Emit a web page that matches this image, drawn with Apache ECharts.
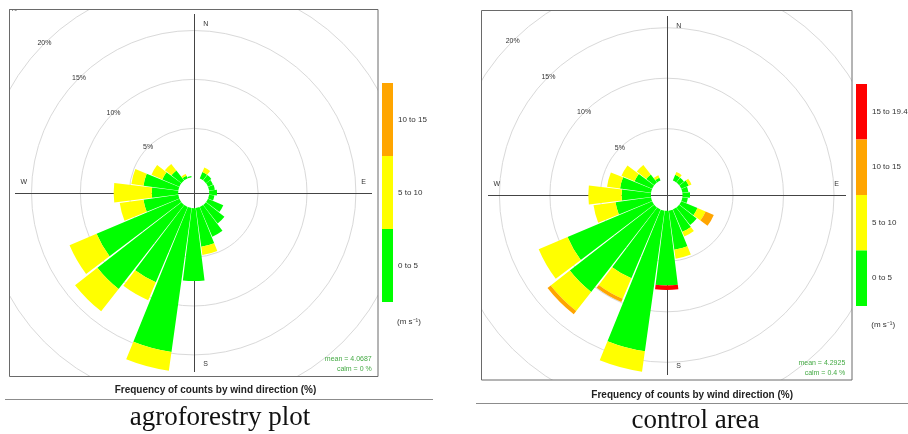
<!DOCTYPE html>
<html><head><meta charset="utf-8">
<script src="https://cdn.jsdelivr.net/npm/echarts@6/dist/echarts.min.js"></script>
<style>html,body{margin:0;padding:0;background:#fff}#c{width:908px;height:434px}</style>
</head><body><div id="c"></div>
<script>
// ---- data ----
const directions = ['0','15','30','45','60','75','90','105','120','135','150','165','180','195','210','225','240','255','270','285','300','315','330','345'];
const speedBins = ['0 to 5','5 to 10','10 to 15','15 to 19.4'];
const binColors = ['#00ff00','#ffff00','#ffa500','#ff0000'];
const ringTicks = [0,5,10,15,20,25];
const compassLabels = ['N','E','S','W'];

// agroforestry plot (% of counts per direction, per speed bin)
const agro0to5   = [0,0,0.7,0.7,0.55,0.6,0.8,0.55,1.7,2.4,3.3,4.0,7.45,14.85,8.35,10.9,9.2,3.6,2.7,3.6,1.9,1.3,0.3,0.15];
const agro5to10  = [0,0,0.5,0,0,0,0,0,0,0,0,0.85,0,1.95,2.0,2.9,3.0,2.45,3.9,1.25,1.2,0.85,0.2,0];
const agro10to15 = [0,0,0,0,0,0,0,0,0,0,0,0,0,0,0,0,0,0,0,0,0,0,0,0];

// control area
const ctrl0to5    = [0,0,0.6,0.6,0.8,0.6,0.75,0.55,1.75,2.2,2.4,3.9,7.4,14.05,7.4,10.6,9.1,3.55,2.9,3.1,1.9,1.0,0.3,0];
const ctrl5to10   = [0,0,0.3,0,0.3,0,0,0,0.87,0,0.5,0.9,0,2.05,2.2,2.4,3.1,2.2,3.3,1.3,1.4,1.2,0.25,0];
const ctrl10to15  = [0,0,0,0,0,0,0,0,0.88,0,0,0,0,0,0.35,0.4,0,0,0,0,0,0,0,0];
const ctrl15to19  = [0,0,0,0,0,0,0,0,0,0,0,0,0.45,0,0,0,0,0,0,0,0,0,0,0];

const agroStats = ['mean = 4.0687', 'calm = 0 %'];
const ctrlStats = ['mean = 4.2925', 'calm = 0.4 %'];
const panelTitle = 'Frequency of counts by wind direction (%)';
const captions = ['agroforestry plot', 'control area'];

// ---- layout ----
const L = {cx:193.7, cy:192.7, r0:15.5, r1:260, frame:[9.5,9.5,368.5,367], lines:[15,372,14,372], title:[215.5,390.7], rule:[5,433,399.5], cap:[220,417.5], stat:[371.7,359], leg:[382,83,73], units:[397,321.7]};
const R = {cx:666.7, cy:195, r0:15.8, r1:268.3, frame:[481.5,10.5,370.5,369.5], lines:[488,846,16,375], title:[692.2,395], rule:[476,908,403.5], cap:[695.5,420.5], stat:[845.3,363.3], leg:[856,84,55.5], units:[871.3,325]};

const sans = 'Liberation Sans, Arial, sans-serif';
const ringColors = ringTicks.map((t,i)=> i===0 ? 'rgba(0,0,0,0)' : '#d9d9d9');

function polarOf(p){ return {center:[p.cx,p.cy], radius:[p.r0,p.r1]}; }
function barAngle(i){ return {polarIndex:i, type:'category', data:directions, startAngle:97.5, clockwise:true, show:false}; }
function gridAngle(i){ return {polarIndex:i, type:'value', min:0, max:360, startAngle:135, show:false}; }
function barRadius(i){ return {polarIndex:i, type:'value', min:0, max:ringTicks[ringTicks.length-1], show:false}; }
function gridRadius(i){ return {polarIndex:i, type:'value', min:0, max:ringTicks[ringTicks.length-1], interval:5,
  axisLine:{show:false}, axisTick:{show:false},
  axisLabel:{margin:0, align:'center', verticalAlign:'middle', fontSize:7, color:'#333', fontFamily:sans,
    formatter:(v)=> v===0 ? '' : v+'%'},
  splitLine:{show:true, lineStyle:{color:ringColors, width:1}}}; }
function bar(name, data, polarIndex, stack, color){
  return {type:'bar', name, data, coordinateSystem:'polar', polarIndex, stack, barCategoryGap:'6%', itemStyle:{color}, silent:true, z:2};
}

function panelGraphics(p, stats, caption){
  const g = [];
  // cross lines (under bars)
  g.push({type:'line', z:1, shape:{x1:p.lines[0], y1:Math.round(p.cy)+0.5, x2:p.lines[1], y2:Math.round(p.cy)+0.5}, style:{stroke:'#444', lineWidth:1}});
  g.push({type:'line', z:1, shape:{x1:Math.round(p.cx)+0.5, y1:p.lines[2], x2:Math.round(p.cx)+0.5, y2:p.lines[3]}, style:{stroke:'#444', lineWidth:1}});
  // frame
  g.push({type:'rect', z:60, shape:{x:p.frame[0], y:p.frame[1], width:p.frame[2], height:p.frame[3]}, style:{fill:null, stroke:'#6a6a6a', lineWidth:1}});
  // compass labels
  const off = [[12,-169],[170,-11],[12,171],[-170,-11]];
  compassLabels.forEach((t,i)=> g.push({type:'text', z:60, x:p.cx+off[i][0], y:p.cy+off[i][1],
    style:{text:t, fontSize:7, fontFamily:sans, fill:'#333', align:'center', verticalAlign:'middle'}}));
  // stats
  stats.forEach((t,i)=> g.push({type:'text', z:60, x:p.stat[0], y:p.stat[1]+i*10,
    style:{text:t, fontSize:7, fontFamily:sans, fill:'#44aa44', align:'right', verticalAlign:'middle'}}));
  // panel title
  g.push({type:'text', z:60, x:p.title[0], y:p.title[1], style:{text:panelTitle, fontSize:10, fontWeight:'bold', fontFamily:sans, fill:'#222', align:'center', verticalAlign:'middle'}});
  // rule
  g.push({type:'line', z:60, shape:{x1:p.rule[0], y1:p.rule[2], x2:p.rule[1], y2:p.rule[2]}, style:{stroke:'#8c8c8c', lineWidth:1}});
  // caption
  g.push({type:'text', z:60, x:p.cap[0], y:p.cap[1], style:{text:caption, fontSize:27, fontFamily:'Liberation Serif, Times New Roman, serif', fill:'#111', align:'center', verticalAlign:'middle'}});
  // units
  g.push({type:'text', z:60, x:p.units[0], y:p.units[1], style:{text:'(m s\u207B\u00B9)', fontSize:8, fontFamily:sans, fill:'#333', align:'left', verticalAlign:'middle'}});
  return g;
}

const masks = [[0,0,481,9],[481,0,427,10],[0,0,9,434],[378,0,103.5,434],[852,0,56,434],[0,377,481,57],[481,380,427,54]]
  .map(r=>({type:'rect', z:50, silent:true, shape:{x:r[0], y:r[1], width:r[2], height:r[3]}, style:{fill:'#fff'}}));

function legendOf(p, names){
  return {data:names, orient:'vertical', left:p.leg[0], top:p.leg[1], padding:0, itemWidth:11, itemHeight:p.leg[2], itemGap:0,
    icon:'rect', selectedMode:false, z:100, textStyle:{fontSize:8, color:'#333', fontFamily:sans}};
}

const option = {
  animation:false,
  backgroundColor:'#fff',
  polar:[polarOf(L), polarOf(L), polarOf(R), polarOf(R)],
  angleAxis:[barAngle(0), gridAngle(1), barAngle(2), gridAngle(3)],
  radiusAxis:[barRadius(0), gridRadius(1), barRadius(2), gridRadius(3)],
  legend:[
    legendOf(L, [speedBins[2], speedBins[1], speedBins[0]]),
    legendOf(R, [speedBins[3], speedBins[2], speedBins[1], speedBins[0]])
  ],
  series:[
    bar(speedBins[0], agro0to5, 0, 'agro', binColors[0]),
    bar(speedBins[1], agro5to10, 0, 'agro', binColors[1]),
    bar(speedBins[2], agro10to15, 0, 'agro', binColors[2]),
    bar(speedBins[0], ctrl0to5, 2, 'ctrl', binColors[0]),
    bar(speedBins[1], ctrl5to10, 2, 'ctrl', binColors[1]),
    bar(speedBins[2], ctrl10to15, 2, 'ctrl', binColors[2]),
    bar(speedBins[3], ctrl15to19, 2, 'ctrl', binColors[3])
  ],
  graphic:{elements:[].concat(panelGraphics(L, agroStats, captions[0]), panelGraphics(R, ctrlStats, captions[1]), masks)}
};
const chart = echarts.init(document.getElementById('c'), null, {renderer:'canvas'});
chart.setOption(option);
</script></body></html>
